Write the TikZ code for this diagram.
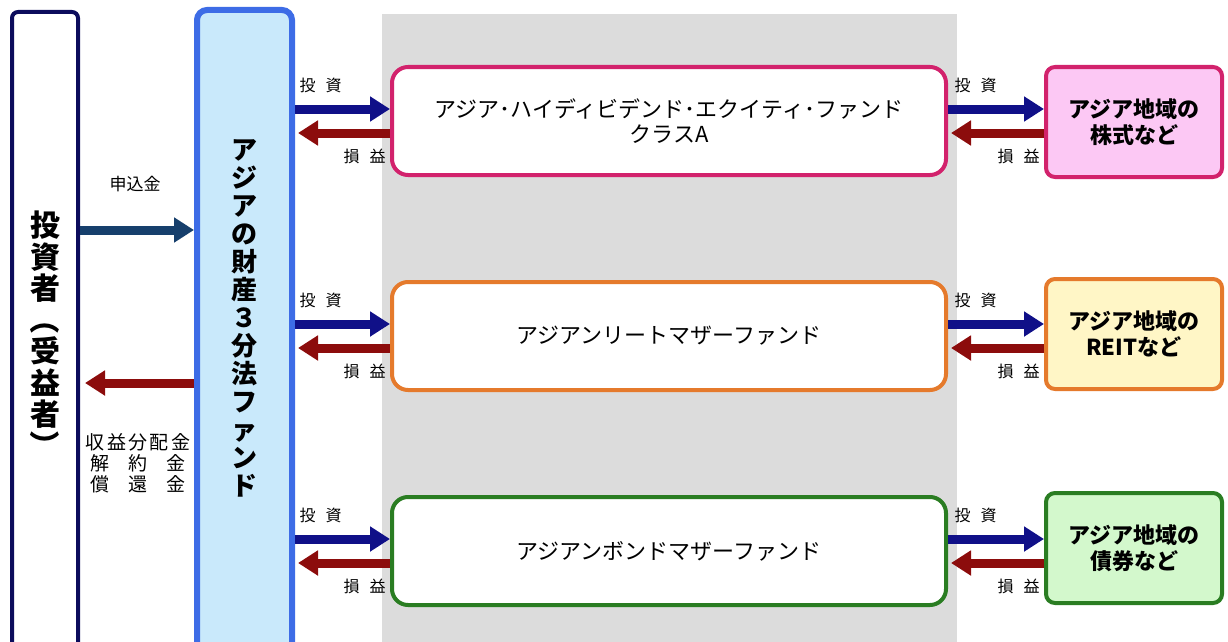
\documentclass[tikz,border=0pt]{standalone}
\usepackage{fontspec}
\setmainfont{Noto Sans CJK JP}
\newfontfamily\cjkwide{Noto Sans CJK JP}[LetterSpace=12]
\usetikzlibrary{arrows.meta}
\usetikzlibrary{calc}
\usetikzlibrary{positioning}

\definecolor{investornavy}{HTML}{0C0C5C}
\definecolor{fundblue}{HTML}{3D6CE6}
\definecolor{fundfill}{HTML}{C9E9FB}
\definecolor{bggray}{HTML}{DCDCDC}
\definecolor{pinkline}{HTML}{D2226C}
\definecolor{pinkfill}{HTML}{FCC8F4}
\definecolor{orangeline}{HTML}{E57A2C}
\definecolor{yellowfill}{HTML}{FFF6C6}
\definecolor{greenline}{HTML}{2A7D22}
\definecolor{greenfill}{HTML}{D3F8CC}
\definecolor{invblue}{HTML}{101088}
\definecolor{retred}{HTML}{8C0C0C}
\definecolor{subblue}{HTML}{163F6C}

\newcommand{\vparen}[1]{\rotatebox[origin=c]{-90}{#1}}

\tikzset{
  midbox/.style={draw, line width=4pt, rounded corners=16pt, fill=white,
    minimum width=554pt, minimum height=108pt, align=center,
    font=\fontsize{22}{25}\selectfont},
  assetbox/.style={draw, line width=4pt, rounded corners=9pt,
    minimum width=176pt, minimum height=110pt, align=center,
    font=\fontsize{22}{26}\selectfont\bfseries},
  invarrow/.style={draw=invblue, line width=9pt, -{Triangle[length=20pt,width=24pt]}},
  retarrow/.style={draw=retred, line width=9pt, -{Triangle[length=20pt,width=24pt]}, shorten >=3pt},
  lbl/.style={font=\fontsize{16}{16}\selectfont, inner sep=0pt},
}

\begin{document}
\begin{tikzpicture}[x=1pt,y=-1pt]
\useasboundingbox (0,0) rectangle (1228,642);
\clip (0,0) rectangle (1228,642);
%\fill[red] (0,0) circle (2pt);
\fill[bggray] (382,14) rectangle (957,660);

% investor and fund
\node[draw=investornavy, line width=4pt, rounded corners=6pt, fill=white,
  minimum width=66pt, minimum height=648pt, align=center,
  font=\fontsize{30}{31.5}\selectfont\bfseries] (investor) at (45,336)
  {投\\資\\者\\\vparen{（}\\受\\益\\者\\\vparen{）}};
\node[draw=fundblue, line width=6pt, rounded corners=10pt, fill=fundfill,
  minimum width=95pt, minimum height=650pt] (fund) at (244.5,335) {};
\node[align=center, font=\fontsize{26}{28}\selectfont\bfseries] (fundtxt) at (244.5,318)
  {ア\\ジ\\ア\\の\\財\\産\\３\\分\\法\\フ\\ァ\\ン\\ド};

% sub funds
\node[midbox, draw=pinkline] (hdf) at (669,121)
  {アジア･ハイディビデンド･エクイティ･ファンド\\クラスA};
\node[midbox, draw=orangeline] (reit) at (669,336) {アジアンリートマザーファンド};
\node[midbox, draw=greenline] (bond) at (669,551) {アジアンボンドマザーファンド};

% assets
\node[assetbox, draw=pinkline, fill=pinkfill] (stock) at (1134,122) {アジア地域の\\株式など};
\node[assetbox, draw=orangeline, fill=yellowfill] (reits) at (1134,334) {アジア地域の\\REITなど};
\node[assetbox, draw=greenline, fill=greenfill] (bonds) at (1134,548) {アジア地域の\\債券など};

% investor <-> fund
\coordinate (subY) at (0,230);
\coordinate (retY) at (0,383);
\draw[draw=subblue, line width=9pt, -{Triangle[length=20pt,width=24pt]}]
  (investor.east |- subY) -- (fund.west |- subY);
\node[lbl, font=\fontsize{17}{17}\selectfont] (sublbl) at (135,184) {申込金};
\draw[retarrow, shorten >=5pt] (fund.west |- retY) -- (investor.east |- retY);
\node[align=center, inner sep=0pt, font=\fontsize{19}{21}\cjkwide] (paylbl) at (138,463)
  {収益分配金\\解\quad 約\quad 金\\償\quad 還\quad 金};

% fund <-> sub funds
\draw[invarrow] ($(fund.east |- hdf.west)+(0,-12)$) --
  node[pos=0, lbl, anchor=south west, yshift=12pt] (inv1) {投\hspace{10pt}資} ($(hdf.west)+(0,-12)$);
\draw[retarrow] ($(hdf.west)+(0,12)$) --
  node[pos=0, lbl, anchor=north east, yshift=-12pt] (ret1) {損\hspace{10pt}益} ($(fund.east |- hdf.west)+(0,12)$);
\draw[invarrow] ($(fund.east |- reit.west)+(0,-12)$) --
  node[pos=0, lbl, anchor=south west, yshift=12pt] (inv2) {投\hspace{10pt}資} ($(reit.west)+(0,-12)$);
\draw[retarrow] ($(reit.west)+(0,12)$) --
  node[pos=0, lbl, anchor=north east, yshift=-12pt] (ret2) {損\hspace{10pt}益} ($(fund.east |- reit.west)+(0,12)$);
\draw[invarrow] ($(fund.east |- bond.west)+(0,-12)$) --
  node[pos=0, lbl, anchor=south west, yshift=12pt] (inv3) {投\hspace{10pt}資} ($(bond.west)+(0,-12)$);
\draw[retarrow] ($(bond.west)+(0,12)$) --
  node[pos=0, lbl, anchor=north east, yshift=-12pt] (ret3) {損\hspace{10pt}益} ($(fund.east |- bond.west)+(0,12)$);

% sub funds <-> assets
\draw[invarrow] ($(hdf.east)+(0,-12)$) --
  node[pos=0, lbl, anchor=south west, yshift=12pt, xshift=2pt] (inv4) {投\hspace{10pt}資} ($(stock.west |- hdf.east)+(0,-12)$);
\draw[retarrow] ($(stock.west |- hdf.east)+(0,12)$) --
  node[pos=0, lbl, anchor=north east, yshift=-12pt] (ret4) {損\hspace{10pt}益} ($(hdf.east)+(0,12)$);
\draw[invarrow] ($(reit.east)+(0,-12)$) --
  node[pos=0, lbl, anchor=south west, yshift=12pt, xshift=2pt] (inv5) {投\hspace{10pt}資} ($(reits.west |- reit.east)+(0,-12)$);
\draw[retarrow] ($(reits.west |- reit.east)+(0,12)$) --
  node[pos=0, lbl, anchor=north east, yshift=-12pt] (ret5) {損\hspace{10pt}益} ($(reit.east)+(0,12)$);
\draw[invarrow] ($(bond.east)+(0,-12)$) --
  node[pos=0, lbl, anchor=south west, yshift=12pt, xshift=2pt] (inv6) {投\hspace{10pt}資} ($(bonds.west |- bond.east)+(0,-12)$);
\draw[retarrow] ($(bonds.west |- bond.east)+(0,12)$) --
  node[pos=0, lbl, anchor=north east, yshift=-12pt] (ret6) {損\hspace{10pt}益} ($(bond.east)+(0,12)$);
\end{tikzpicture}
\end{document}
